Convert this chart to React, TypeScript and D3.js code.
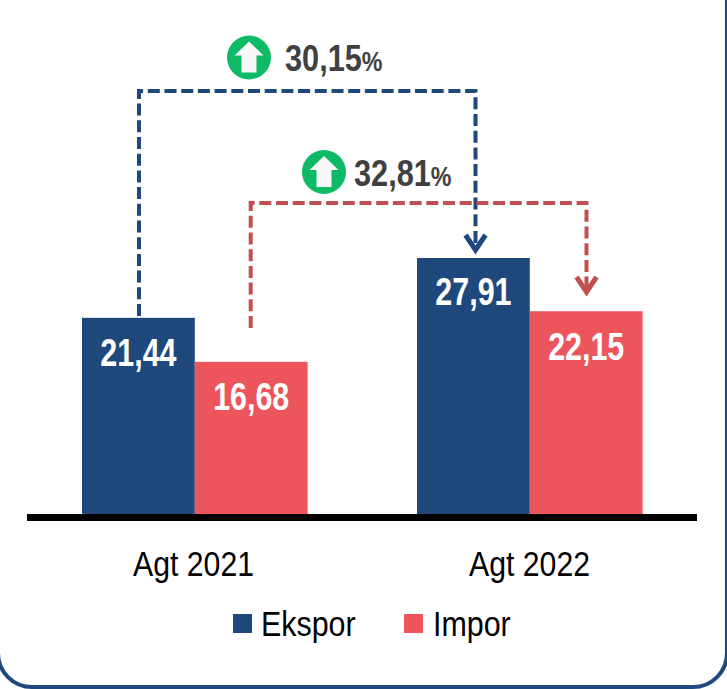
import React from "react";
import * as d3 from "d3";

const periods = ["Agt 2021", "Agt 2022"];
const seriesNames = ["Ekspor", "Impor"];
const ekspor = [21.44, 27.91];
const impor = [16.68, 22.15];
const growthEkspor = "30,15";
const growthImpor = "32,81";
const colors = ["#1F497D", "#EC555C"];
const arrowColors = ["#1F497D", "#C0504D"];

const FONT = "'Liberation Sans',Arial,sans-serif";
const fmt = (v: number) => v.toFixed(2).replace(".", ",");

function Narrow({ x, y, anchor = "start", size, bold, fill, sx = 0.82, children }: any) {
  return (
    <text
      transform={`translate(${x},${y}) scale(${sx},1)`}
      textAnchor={anchor}
      fontSize={size}
      fontWeight={bold ? 700 : 400}
      fill={fill}
    >
      {children}
    </text>
  );
}

function Up({ cx, cy }: { cx: number; cy: number }) {
  const p = d3.path();
  p.moveTo(cx, cy - 16);
  p.lineTo(cx + 14.5, cy - 2);
  p.lineTo(cx + 7.5, cy - 2);
  p.lineTo(cx + 7.5, cy + 15);
  p.lineTo(cx - 7.5, cy + 15);
  p.lineTo(cx - 7.5, cy - 2);
  p.lineTo(cx - 14.5, cy - 2);
  p.closePath();
  return (
    <g>
      <circle cx={cx} cy={cy} r={22} fill="#0FBA66" />
      <path d={p.toString()} fill="#F8F8F8" />
    </g>
  );
}

function Connector({ x0, y0, yTop, x1, y1, color }: { x0: number; y0: number; yTop: number; x1: number; y1: number; color: string }) {
  const l = d3.line()([[x0, y0], [x0, yTop], [x1, yTop], [x1, y1 - 3]]) as string;
  const head = d3.line()([[x1 - 10, y1 - 18], [x1, y1 - 3], [x1 + 10, y1 - 18]]) as string;
  return (
    <g fill="none" stroke={color}>
      <path d={l} strokeWidth={4} strokeDasharray="12 4.7" />
      <path d={head} strokeWidth={5} />
    </g>
  );
}

export default function App() {
  const baseY = 516;
  const y = d3.scaleLinear().domain([0, 27.91]).range([baseY, 258]);
  const group = d3.scaleOrdinal<string, number>().domain(periods).range([82, 417]);
  const bw = 112.8;
  const bars = [ekspor, impor];
  const centers = [193.5, 529.5];
  const labelY = [[366, 410], [305, 360]];

  return (
    <svg width={727} height={689} style={{ position: "absolute", left: 0, top: 0, background: "#fff" }} fontFamily={FONT}>
      <rect x={-2} y={-60} width={729} height={747} rx={34} fill="none" stroke="#1F497D" strokeWidth={4} />

      <Connector x0={139} y0={316} yTop={91} x1={475.5} y1={253} color={arrowColors[0]} />
      <Connector x0={250.7} y0={328} yTop={203} x1={586.5} y1={295} color={arrowColors[1]} />

      {periods.map((p, i) =>
        bars.map((vals, s) => {
          const x0 = (group(p) as number) + s * bw;
          const top = y(vals[i]);
          return (
            <g key={p + s}>
              <rect x={x0} y={top} width={bw} height={baseY - top} fill={colors[s]} />
              <Narrow x={x0 + bw / 2} y={labelY[i][s]} anchor="middle" size={38} bold fill="#fff" sx={0.8}>
                {fmt(vals[i])}
              </Narrow>
            </g>
          );
        })
      )}

      <rect x={27} y={514} width={670} height={7} fill="#000" />

      {periods.map((p, i) => (
        <Narrow key={p} x={centers[i]} y={576} anchor="middle" size={36} fill="#000" sx={0.84}>{p}</Narrow>
      ))}

      <rect x={233} y={614} width={19} height={19} fill={colors[0]} />
      <Narrow x={261} y={636} size={36} fill="#000" sx={0.845}>{seriesNames[0]}</Narrow>
      <rect x={404} y={614} width={19} height={19} fill={colors[1]} />
      <Narrow x={433} y={636} size={36} fill="#000" sx={0.845}>{seriesNames[1]}</Narrow>

      <Up cx={249} cy={57.5} />
      <Narrow x={285} y={71} size={37} bold fill="#404040" sx={0.83}>
        {growthEkspor}<tspan fontSize={28}>%</tspan>
      </Narrow>
      <Up cx={324} cy={172} />
      <Narrow x={354} y={186} size={37} bold fill="#404040" sx={0.83}>
        {growthImpor}<tspan fontSize={28}>%</tspan>
      </Narrow>
    </svg>
  );
}
